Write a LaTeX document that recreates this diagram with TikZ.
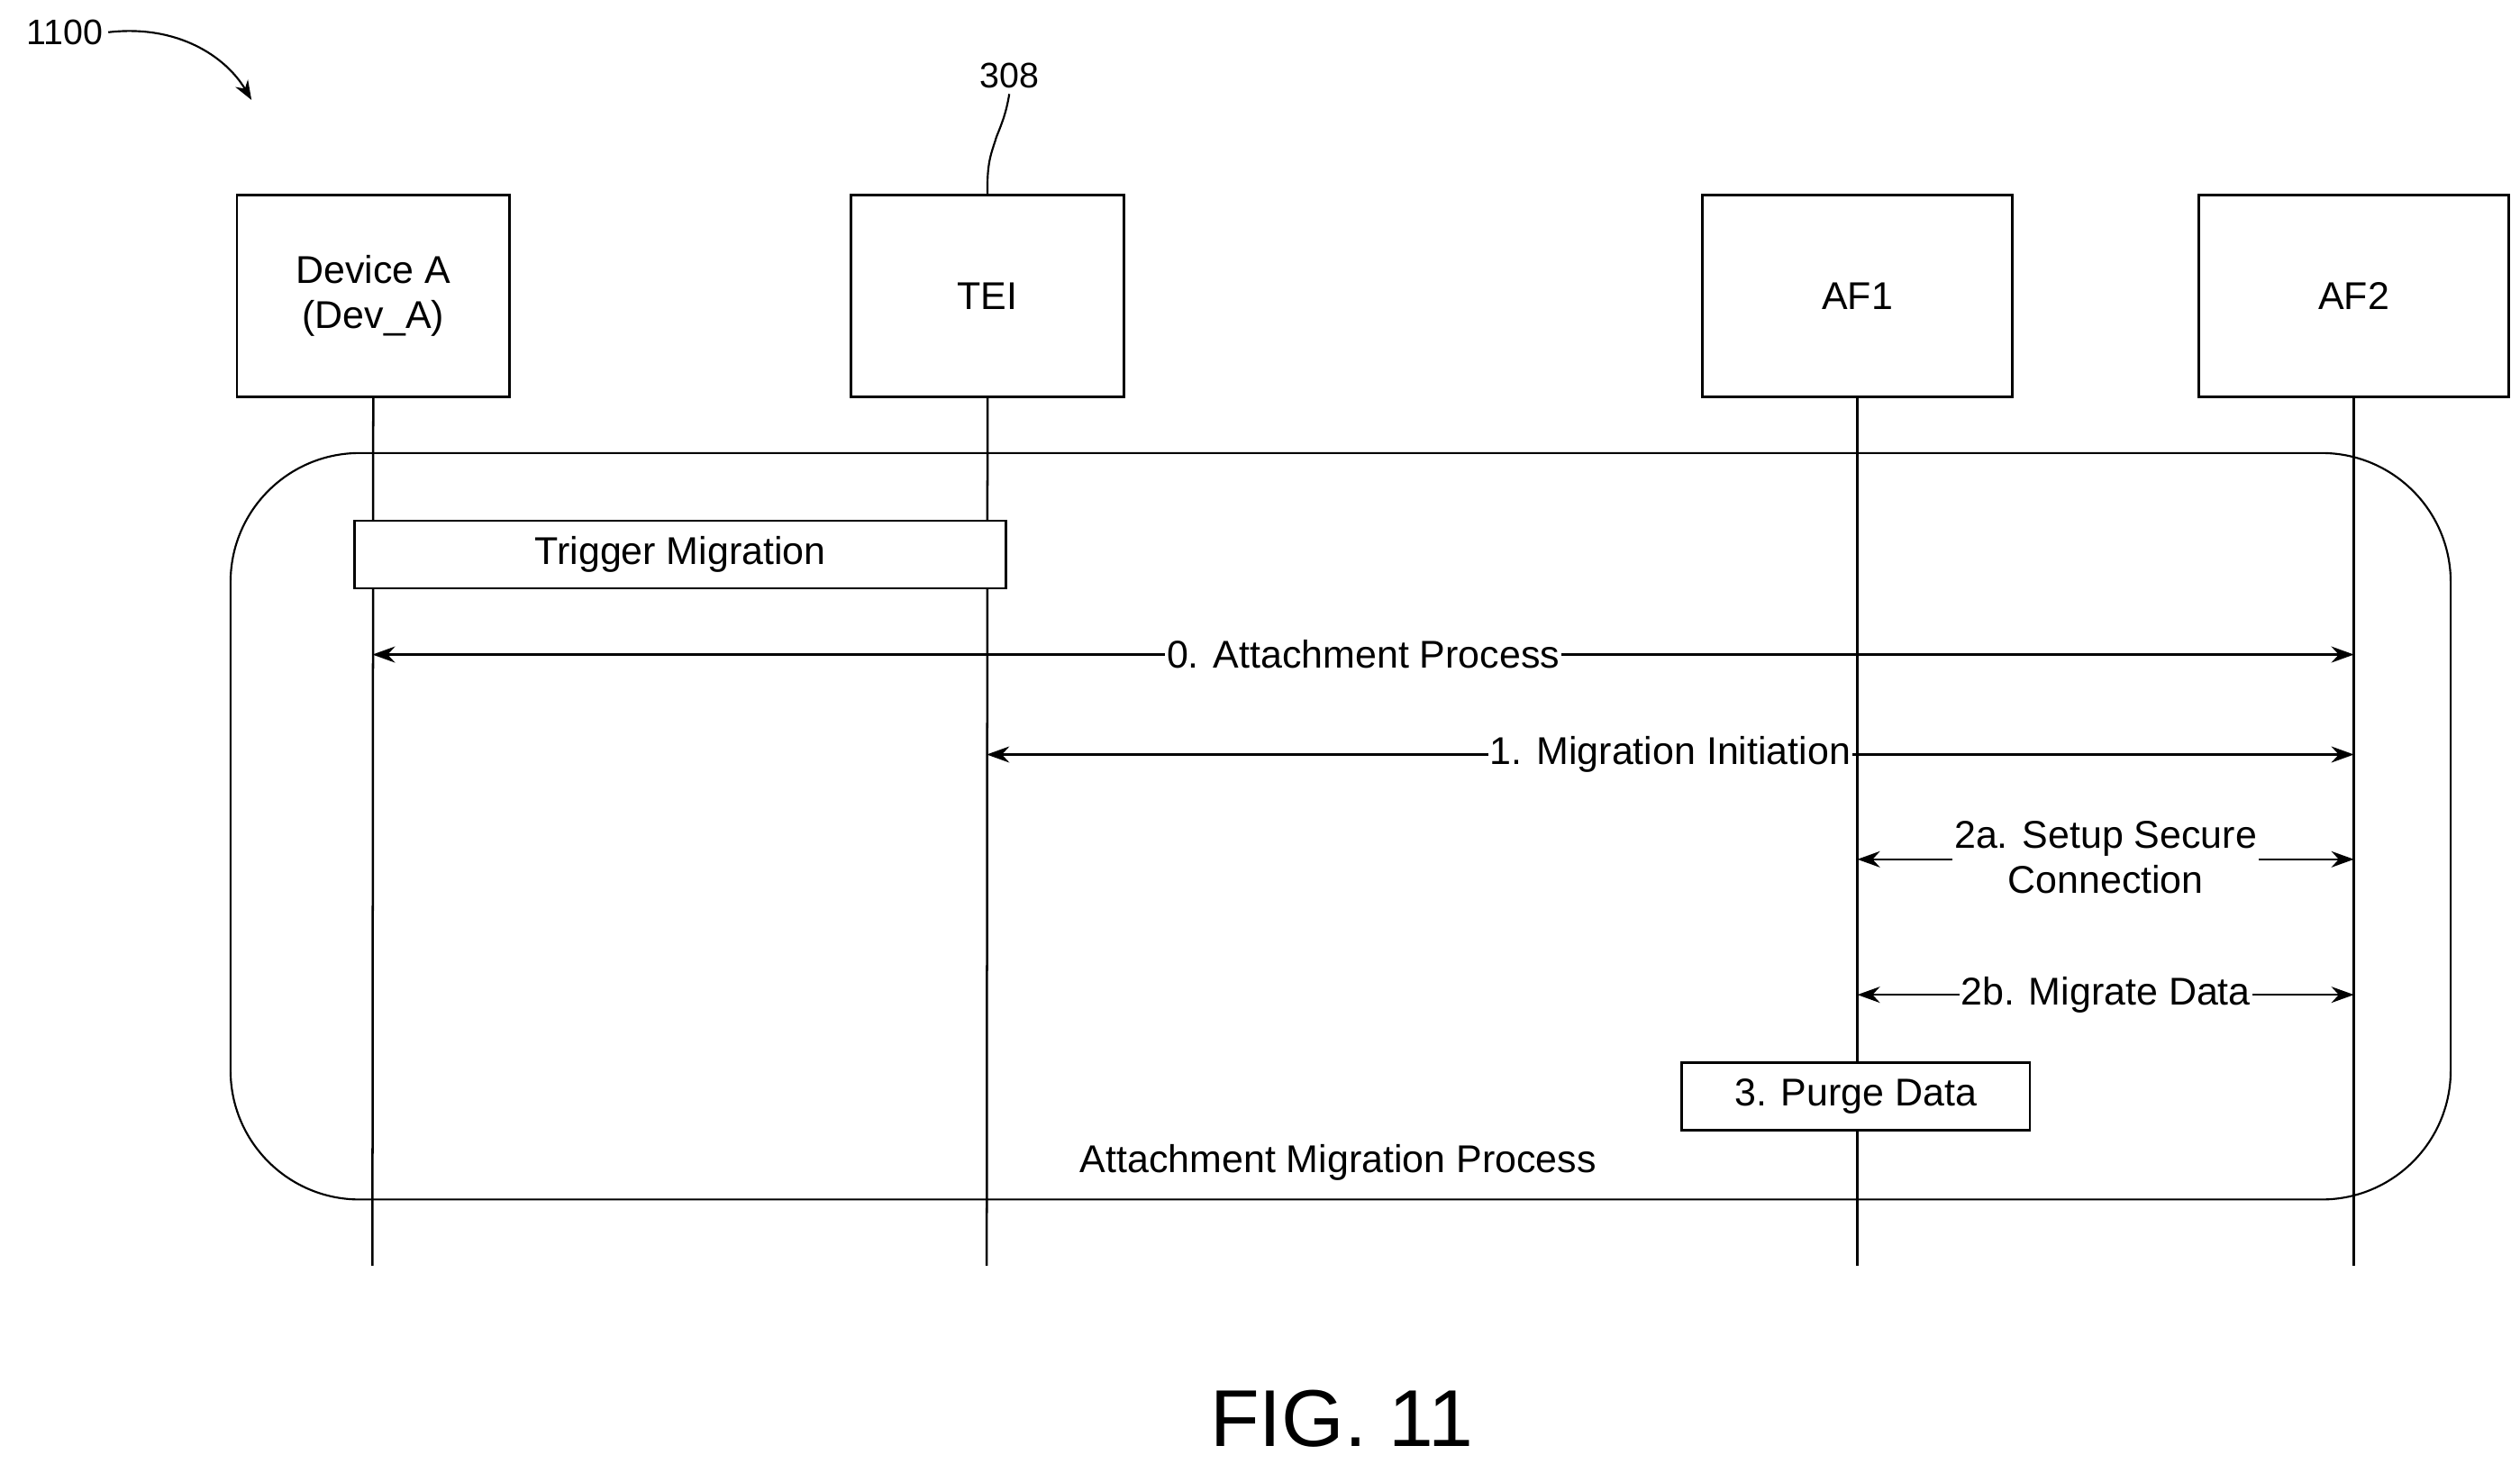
\documentclass[tikz,border=0pt]{standalone}
\usepackage{fontspec}
\setmainfont{Liberation Sans}
\usetikzlibrary{arrows.meta}
\begin{document}
\begin{tikzpicture}[x=1pt,y=-1pt,
  ent/.style={draw,line width=1.6pt,minimum width=#1,minimum height=125pt,inner sep=0pt,font=\fontsize{24}{28}\selectfont,align=center},
  life/.style={line width=1.4pt},
  msg/.style={line width=1.4pt,{Stealth[length=14pt,width=10pt]}-{Stealth[length=14pt,width=10pt]}},
  lab/.style={fill=white,inner sep=1pt,font=\fontsize{24}{28}\selectfont,align=center},
  act/.style={draw,line width=1.4pt,fill=white,inner sep=0pt,font=\fontsize{24}{28}\selectfont}]
\useasboundingbox (0,0) rectangle (1563,908);
\node[ent=169pt] (dev) at (231.5,183.5) {Device A\\(Dev\_A)};
\node[ent=169pt] (tei) at (612.5,183.5) {TEI};
\node[ent=192pt] (af1) at (1152,183.5) {AF1};
\node[ent=192pt] (af2) at (1460,183.5) {AF2};
\foreach \n/\x in {dev/231,tei/612,af1/1152,af2/1460}{
  \coordinate (\n e) at (\x,785);
  \draw[life] (\n.south) -- (\n e);}
\draw[line width=1.2pt,rounded corners=80pt] (143,281) rectangle (1520,744);
\node[act,minimum width=404pt,minimum height=42pt] (trig) at (422,344) {Trigger Migration};
\coordinate (d0) at (231,406); \coordinate (a0) at (1460,406);
\draw[msg] (d0) -- node[lab,pos=0.5] {0. Attachment Process} (a0);
\coordinate (t1) at (612,468); \coordinate (a1) at (1460,468);
\draw[msg] (t1) -- node[lab,pos=0.5] {1. Migration Initiation} (a1);
\coordinate (f2) at (1152,533); \coordinate (a2) at (1460,533);
\draw[msg] (f2) -- (a2);
\node[lab] (l2a) at (1306,532) {2a. Setup Secure\\Connection};
\coordinate (f3) at (1152,617); \coordinate (a3) at (1460,617);
\draw[msg] (f3) -- node[lab] {2b. Migrate Data} (a3);
\node[act,minimum width=216pt,minimum height=42pt] (purge) at (1151,680) {3. Purge Data};
\node[font=\fontsize{24}{28}\selectfont] (amp) at (830,721) {Attachment Migration Process};
\node[font=\fontsize{50}{56}\selectfont] (fig) at (832,880) {FIG. 11};
\node[font=\fontsize{22}{26}\selectfont] (n1100) at (40,20) {1100};
\coordinate (t1100) at (156,62);
\draw[line width=1.2pt,-{Stealth[length=12pt,width=9pt]}] (n1100.east) .. controls (110,15) and (140,35) .. (t1100);
\node[font=\fontsize{22}{26}\selectfont] (n308) at (626,47) {308};
\draw[line width=1.2pt] (tei.north) .. controls (612,100) and (615,95) .. (618,85) .. controls (622,75) and (624,70) .. (n308.south);
\end{tikzpicture}
\end{document}
